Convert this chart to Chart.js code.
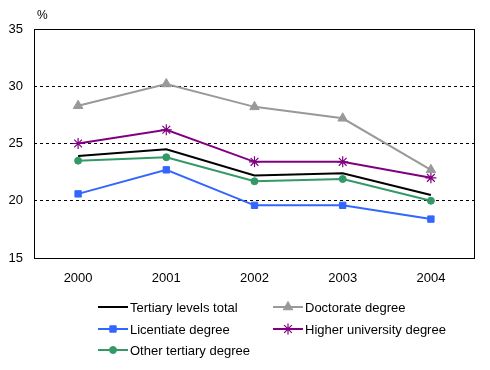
<!DOCTYPE html>
<html>
<head>
<meta charset="utf-8">
<script src="https://cdn.jsdelivr.net/npm/chart.js@4"></script>
<style>
  body { margin: 0; background: #fff; }
  #wrap { width: 490px; height: 370px; }
</style>
</head>
<body>
<div id="wrap"><canvas id="grafico" width="490" height="370"></canvas></div>
<script>
// dados
const anos = ['2000', '2001', '2002', '2003', '2004'];
const tertiaryTotal = [23.9, 24.5, 22.2, 22.4, 20.5];
const doctorate = [28.3, 30.2, 28.2, 27.2, 22.7];
const licentiate = [20.6, 22.7, 19.6, 19.6, 18.4];
const higherUniv = [25.0, 26.2, 23.4, 23.4, 22.0];
const otherTertiary = [23.5, 23.8, 21.7, 21.9, 20.0];
const yTicks = [15, 20, 25, 30, 35];

const fonte = 'Arial, "Liberation Sans", sans-serif';

// legenda em duas colunas, desenhada no próprio canvas
const legendaPlugin = {
  id: 'legenda',
  afterDraw(chart) {
    const ctx = chart.ctx;
    const area = chart.chartArea;
    ctx.save();
    // moldura da área do gráfico
    ctx.strokeStyle = '#000';
    ctx.lineWidth = 1;
    ctx.strokeRect(Math.round(area.left) + 0.5, Math.round(area.top) + 0.5,
      Math.round(area.right - area.left) - 1, Math.round(area.bottom - area.top));
    // símbolo de %
    ctx.fillStyle = '#000';
    ctx.font = '12px ' + fonte;
    ctx.textBaseline = 'middle';
    ctx.fillText('%', 37, 16);

    const posicoes = [[98, 307], [273, 307], [98, 329], [273, 329], [98, 350]];
    chart.data.datasets.forEach((ds, i) => {
      const [x, y] = posicoes[i];
      ctx.strokeStyle = ds.borderColor;
      ctx.fillStyle = ds.borderColor;
      ctx.lineWidth = 2;
      ctx.beginPath();
      ctx.moveTo(x, y);
      ctx.lineTo(x + 30, y);
      ctx.stroke();
      if (ds.pointRadius > 0) {
        ctx.lineWidth = ds.pointBorderWidth;
        Chart.helpers.drawPoint(ctx, {
          pointStyle: ds.pointStyle,
          radius: ds.pointRadius,
          borderWidth: ds.pointBorderWidth,
          rotation: 0
        }, x + 15, y);
      }
      ctx.fillStyle = '#000';
      ctx.font = '13px ' + fonte;
      ctx.fillText(ds.label, x + 32, y + 1);
    });
    ctx.restore();
  }
};

function linha(label, data, cor, estilo, raio) {
  return {
    label: label,
    data: data,
    borderColor: cor,
    backgroundColor: cor,
    pointBackgroundColor: cor,
    pointBorderColor: cor,
    borderWidth: 2,
    pointStyle: estilo,
    pointRadius: raio,
    pointHoverRadius: raio,
    pointBorderWidth: estilo === 'star' ? 1.2 : 1,
    tension: 0
  };
}

let grafico = new Chart(document.getElementById('grafico').getContext('2d'), {
  type: 'line',
  data: {
    labels: anos,
    datasets: [
      linha('Tertiary levels total', tertiaryTotal, '#000000', 'circle', 0),
      linha('Doctorate degree', doctorate, '#999999', 'triangle', 5.5),
      linha('Licentiate degree', licentiate, '#3366FF', 'rect', 4.5),
      linha('Higher university degree', higherUniv, '#800080', 'star', 5.5),
      linha('Other tertiary degree', otherTertiary, '#339966', 'circle', 3.5)
    ]
  },
  options: {
    responsive: false,
    animation: false,
    events: [],
    layout: { padding: { top: 29, right: 15, left: 0, bottom: 0 } },
    plugins: { legend: { display: false }, tooltip: { enabled: false } },
    scales: {
      x: {
        offset: true,
        grid: { display: false, drawTicks: false },
        border: { display: false },
        ticks: { color: '#000', font: { family: fonte, size: 13 }, padding: 13, maxRotation: 0 },
        afterFit(scale) { scale.height = 112; }
      },
      y: {
        min: 15,
        max: 35,
        afterBuildTicks(scale) { scale.ticks = yTicks.map(v => ({ value: v })); },
        grid: {
          drawTicks: false,
          color: ctx => (ctx.tick && ctx.tick.value > 15 && ctx.tick.value < 35) ? '#000' : 'rgba(0,0,0,0)',
          lineWidth: 1
        },
        border: { display: false, dash: [3, 3] },
        ticks: { color: '#000', font: { family: fonte, size: 13 }, padding: 11 },
        afterFit(scale) { scale.width = 34; }
      }
    }
  },
  plugins: [legendaPlugin]
});
</script>
</body>
</html>
